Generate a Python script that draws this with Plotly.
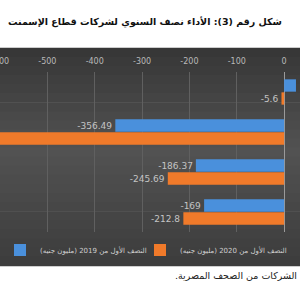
import plotly.graph_objects as go

categories = ["A", "B", "C", "D"]
h2019 = [25, -356.49, -186.37, -169]
h2020 = [-5.6, -650, -245.69, -212.8]
show2019 = [False, True, True, True]
show2020 = [True, False, True, True]
ticks = [-600, -500, -400, -300, -200, -100, 0]
RLM = "\u200f"
name2019 = RLM + "النصف الأول من 2019 (مليون جنيه)" + RLM
name2020 = RLM + "النصف الأول من 2020 (مليون جنيه)" + RLM
title = RLM + "شكل رقم (3): الأداء نصف السنوي لشركات قطاع الإسمنت" + RLM
source = RLM + "الشركات من الصحف المصرية." + RLM

W, H = 300, 300
T, B = 72, 68
plot_h = H - T - B

def py(p):
    return (H - B - p) / plot_h

fig = go.Figure()
fig.add_trace(go.Bar(
    y=categories, x=h2019, orientation="h", name=name2019, legend="legend",
    marker=dict(color="#4a90dc", line=dict(width=0)),
    text=[f"{v:g}" if s else "" for v, s in zip(h2019, show2019)],
    textposition="outside", cliponaxis=True,
    textfont=dict(color="#c4c4c4", size=9, family="DejaVu Sans"),
))
fig.add_trace(go.Bar(
    y=categories, x=h2020, orientation="h", name=name2020, legend="legend2",
    marker=dict(color="#f07a2a", line=dict(width=0)),
    text=[f"{v:g}" if s else "" for v, s in zip(h2020, show2020)],
    textposition="outside", cliponaxis=True,
    textfont=dict(color="#c4c4c4", size=9, family="DejaVu Sans"),
))

# background gradient (dark chart area)
top, bot, mid = 48, 266, 150
n = 24
def lerp(a, b, t):
    return int(round(a + (b - a) * t))
for i in range(n):
    y0 = top + (bot - top) * i / n
    y1 = top + (bot - top) * (i + 1) / n
    yc = (y0 + y1) / 2
    if yc < mid:
        t = (yc - top) / (mid - top)
        c = lerp(0x36, 0x52, t)
    else:
        t = (yc - mid) / (bot - mid)
        c = lerp(0x52, 0x3c, t)
    fig.add_shape(type="rect", xref="paper", yref="paper",
                  x0=-0.01, x1=1.01, y0=py(y1) - 0.002, y1=py(y0) + 0.002,
                  fillcolor=f"rgb({c},{c},{c})", line=dict(width=0), layer="below")

fig.add_annotation(text="<b>" + title + "</b>", xref="paper", yref="paper",
                   x=284 / W, y=py(22), xanchor="right", yanchor="middle",
                   showarrow=False, font=dict(size=9.5, color="#111111", family="DejaVu Sans"))
fig.add_annotation(text=source, xref="paper", yref="paper",
                   x=299 / W, y=py(275), xanchor="right", yanchor="middle",
                   showarrow=False, font=dict(size=9.5, color="#222222", family="DejaVu Sans"))

legend_common = dict(orientation="h", xanchor="left", y=py(250), yanchor="middle",
                     bgcolor="rgba(0,0,0,0)",
                     font=dict(size=7, color="#d0d0d0", family="DejaVu Sans"),
                     itemwidth=30)

fig.update_layout(
    width=W, height=H,
    margin=dict(l=0, r=0, t=T, b=B, pad=0, autoexpand=False),
    paper_bgcolor="white", plot_bgcolor="rgba(0,0,0,0)",
    barmode="group", bargap=0.35, bargroupgap=0.05,
    showlegend=True,
    legend=dict(x=0 / W, **legend_common),
    legend2=dict(x=140 / W, **legend_common),
    xaxis=dict(range=[-600, 33.5], side="top", tickvals=ticks, ticktext=[str(t) for t in ticks],
               showgrid=True, gridcolor="#606060", gridwidth=1,
               zeroline=True, zerolinecolor="#9a9a9a", zerolinewidth=1,
               tickfont=dict(size=8, color="#b8b8b8", family="DejaVu Sans"),
               ticklabelstandoff=5, ticklabeloverflow="allow", showline=False,
               automargin=False),
    yaxis=dict(autorange="reversed", showticklabels=False, showgrid=False, zeroline=False,
               showline=False, automargin=False),
)

fig.write_html("out.html")
